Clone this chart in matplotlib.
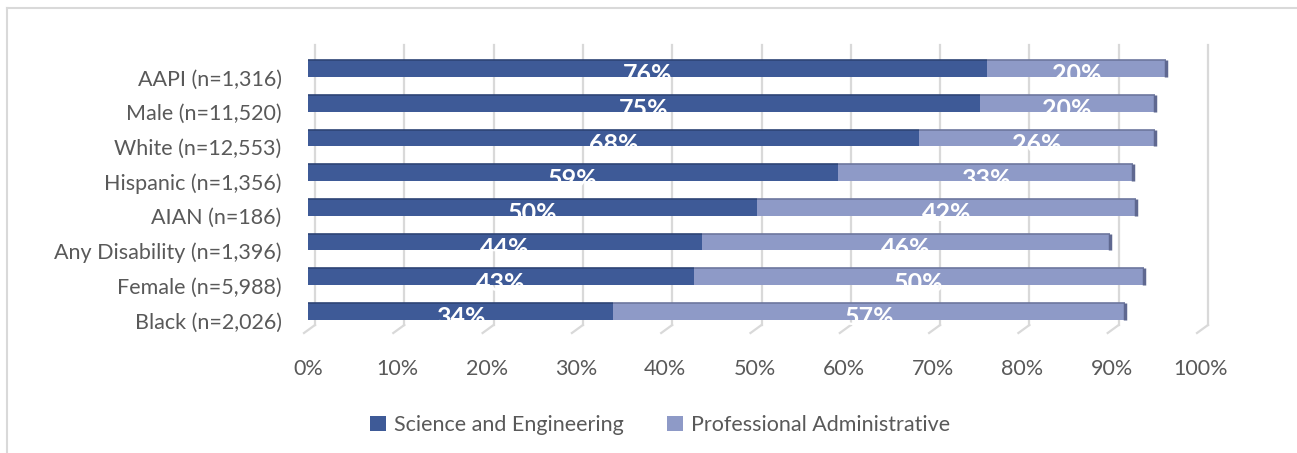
import matplotlib
matplotlib.use("Agg")
import matplotlib.pyplot as plt
from matplotlib.patches import Patch
from matplotlib.lines import Line2D
from matplotlib.transforms import ScaledTranslation

# ---- data ----
categories = ["Black (n=2,026)", "Female (n=5,988)", "Any Disability (n=1,396)",
              "AIAN (n=186)", "Hispanic (n=1,356)", "White (n=12,553)",
              "Male (n=11,520)", "AAPI (n=1,316)"]
sci_eng = [34.2, 43.2, 44.1, 50.3, 59.4, 68.4, 75.2, 76.0]
prof_admin = [57.3, 50.4, 45.7, 42.4, 33.0, 26.4, 19.6, 20.1]
sci_labels = ["34%", "43%", "44%", "50%", "59%", "68%", "75%", "76%"]
prof_labels = ["57%", "50%", "46%", "42%", "33%", "26%", "20%", "20%"]
xticks = [0, 10, 20, 30, 40, 50, 60, 70, 80, 90, 100]
series_names = ["Science and Engineering", "Professional Administrative"]

DARK = "#3E5A97"
LIGHT = "#8E9AC7"
TEXT = "#595959"
GRID = "#D9D9D9"
FONT = "Lato"
FS = 15.5

W, H, DPI = 1297, 453, 100
fig = plt.figure(figsize=(W / DPI, H / DPI), dpi=DPI)
plt.rcParams["font.family"] = FONT

ax_l, ax_r, ax_t, ax_b = 308, 1201, 45, 333
ax = fig.add_axes([ax_l / W, (H - ax_b) / H, (ax_r - ax_l) / W, (ax_b - ax_t) / H])
ax.patch.set_visible(False)
ax.set_xlim(0, 100)
ax.set_ylim(-0.62, 7.677)
for s in ax.spines.values():
    s.set_visible(False)

y = list(range(len(categories)))
bh = 0.48
b1 = ax.barh(y, sci_eng, height=bh, color=DARK, zorder=3)
b2 = ax.barh(y, prof_admin, left=sci_eng, height=bh, color=LIGHT, zorder=3)

# 3D-ish top edge and end caps
for i in y:
    tot = sci_eng[i] + prof_admin[i]
    ax.plot([0, sci_eng[i]], [i + bh / 2, i + bh / 2], color="#2E4475", lw=1.2, zorder=4, solid_capstyle="butt")
    ax.plot([sci_eng[i], tot], [i + bh / 2, i + bh / 2], color="#6D779E", lw=1.2, zorder=4, solid_capstyle="butt")
    ax.plot([tot, tot], [i - bh / 2, i + bh / 2], color="#5F6890", lw=2.5, zorder=4, solid_capstyle="butt")

# data labels (white, clipped by bar)
for i in y:
    for bar, val, lab in ((b1[i], sci_eng[i], sci_labels[i]), (b2[i], prof_admin[i], prof_labels[i])):
        cx = bar.get_x() + bar.get_width() / 2
        t = ax.text(cx, i, lab, ha="center", va="center", color="white",
                    fontsize=18, fontweight="bold", zorder=5)
        t.set_transform(ax.transData + ScaledTranslation(0, -6.5 / DPI, fig.dpi_scale_trans))
        t.set_clip_path(bar)

# gridlines with a slanted floor segment
for v in xticks:
    xd, _ = ax.transData.transform((v, 0))
    xt = xd + 7
    lines = [([xt, xt], [H - ax_t, H - 325]), ([xt, xt - 11], [H - 325, H - 333])]
    for xs, ys in lines:
        fig.add_artist(Line2D(xs, ys, transform=None, color=GRID, lw=1.6, zorder=0))

# ticks
ax.set_xticks(xticks)
ax.set_xticklabels([f"{v}%" for v in xticks])
ax.set_yticks(y)
ax.set_yticklabels(categories)
ax.tick_params(axis="x", length=0, pad=19, labelsize=FS, labelcolor=TEXT)
ax.tick_params(axis="y", length=0, pad=19, labelsize=FS, labelcolor=TEXT)
for lab in ax.get_yticklabels():
    lab.set_transform(lab.get_transform() + ScaledTranslation(0, -9 / DPI, fig.dpi_scale_trans))

# border (left & top)
fig.add_artist(Line2D([7, 7], [0, H - 8], transform=None, color=GRID, lw=1.5))
fig.add_artist(Line2D([7, W], [H - 8, H - 8], transform=None, color=GRID, lw=1.5))

# legend
handles = [Patch(facecolor=DARK), Patch(facecolor=LIGHT)]
fig.legend(handles, series_names, loc="center", bbox_to_anchor=(660 / W, (H - 425) / H),
           ncol=2, frameon=False, fontsize=FS, labelcolor=TEXT,
           handlelength=0.75, handleheight=0.75, handletextpad=0.35, columnspacing=2.0)

fig.savefig("out.png", dpi=DPI)
